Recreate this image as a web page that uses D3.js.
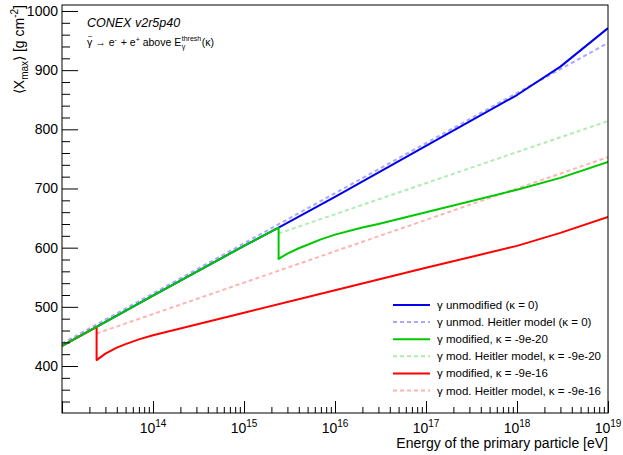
<!DOCTYPE html>
<html>
<head>
<meta charset="utf-8">
<script src="https://cdn.jsdelivr.net/npm/d3@7"></script>
<style>
  body { margin: 0; background: #fff; }
  text { font-family: "Liberation Sans", Arial, sans-serif; white-space: pre; }
</style>
</head>
<body>
<div id="chart"></div>
<script>
// Energies [eV] and <Xmax> values [g/cm2]
let blueE = [1e13, 2.4e13, 1e14, 1e15, 2.4e15, 1e16, 1e17, 1e18, 3e18, 1e19];
let blueX = [434, 466, 519, 603, 634, 686, 772, 858, 906, 971];
let blueHeitlerE = [1e13, 1e19];
let blueHeitlerX = [438, 946];

let greenE = [1e13, 2.4e13, 1e14, 1e15, 2.4e15, 2.4e15, 3e15, 4e15, 5e15, 7e15, 1e16, 2e16, 3e16, 1e17, 1e18, 3e18, 1e19];
let greenX = [434, 466, 519, 603, 634, 581, 590, 599, 605, 614, 622, 634, 640, 660, 698, 718, 745];
let greenHeitlerE = [2.4e15, 1e19];
let greenHeitlerX = [624, 814];

let redE = [1e13, 2.4e13, 2.4e13, 3e13, 4e13, 5e13, 7e13, 1e14, 1e15, 1e16, 1e17, 1e18, 3e18, 1e19];
let redX = [434, 466, 410, 421, 431, 437, 445, 452, 490, 528, 566, 603, 625, 652];
let redHeitlerE = [2.4e13, 1e19];
let redHeitlerX = [455, 753];

let yMajorTicks = [400, 500, 600, 700, 800, 900, 1000];
let xDecades = [13, 14, 15, 16, 17, 18, 19];
let xLabelDecades = [14, 15, 16, 17, 18, 19];

let legendLabels = [
    'γ unmodified (κ = 0)',
    'γ unmod. Heitler model (κ = 0)',
    'γ modified, κ = -9e-20',
    'γ mod. Heitler model, κ = -9e-20',
    'γ modified, κ = -9e-16',
    'γ mod. Heitler model, κ = -9e-16'
];

// Layout
let svgWidth = 623;
let svgHeight = 455;
let frame = { left: 62, right: 608, top: 5, bottom: 413 };

let svg = d3.select('#chart').append('svg')
    .attr('width', svgWidth)
    .attr('height', svgHeight);

let xScale = d3.scaleLog().domain([1e13, 1e19]).range([frame.left, frame.right]);
let yScale = d3.scaleLinear().domain([320.6, 1010.1]).range([frame.bottom, frame.top]);

// Series styles (drawing order)
let series = [
    { e: blueHeitlerE, v: blueHeitlerX, color: '#a8a8ff', dash: '4,3' },
    { e: blueE, v: blueX, color: '#0000ee', dash: null },
    { e: redHeitlerE, v: redHeitlerX, color: '#ffb4b4', dash: '4,3' },
    { e: redE, v: redX, color: '#ff0000', dash: null },
    { e: greenHeitlerE, v: greenHeitlerX, color: '#b0ecb0', dash: '4,3' },
    { e: greenE, v: greenX, color: '#00c800', dash: null }
];

svg.append('clipPath').attr('id', 'plotClip')
    .append('rect')
    .attr('x', frame.left).attr('y', frame.top)
    .attr('width', frame.right - frame.left)
    .attr('height', frame.bottom - frame.top);

let line = d3.line()
    .x(d => xScale(d[0]))
    .y(d => yScale(d[1]));

let plot = svg.append('g').attr('clip-path', 'url(#plotClip)');
series.forEach(s => {
    plot.append('path')
        .datum(s.e.map((e, i) => [e, s.v[i]]))
        .attr('d', line)
        .attr('fill', 'none')
        .attr('stroke', s.color)
        .attr('stroke-width', 2)
        .attr('stroke-linejoin', 'round')
        .attr('stroke-dasharray', s.dash);
});

// Frame
svg.append('rect')
    .attr('x', frame.left).attr('y', frame.top)
    .attr('width', frame.right - frame.left)
    .attr('height', frame.bottom - frame.top)
    .attr('fill', 'none')
    .attr('stroke', '#000')
    .attr('stroke-width', 1);

// Y axis: majors every 100, minors every 20, ticks pointing inward
let yMinorTicks = d3.range(340, 1010, 20).filter(v => v % 100 !== 0);
let yAxis = d3.axisLeft(yScale).tickValues(yMajorTicks).tickSize(-16).tickPadding(4).tickFormat(d3.format('d'));
let yAxisMinor = d3.axisLeft(yScale).tickValues(yMinorTicks).tickSize(-8).tickFormat('');

let yG = svg.append('g').attr('transform', `translate(${frame.left}, 0)`).call(yAxis);
svg.append('g').attr('transform', `translate(${frame.left}, 0)`).call(yAxisMinor);
yG.selectAll('text').style('font-size', '14px').attr('fill', '#000');

// X axis: decades with 2..9 minors
let xMinorTicks = [];
xDecades.slice(0, -1).forEach(d => {
    for (let k = 2; k <= 9; k++) xMinorTicks.push(k * Math.pow(10, d));
});
let xAxis = d3.axisBottom(xScale).tickValues(xDecades.map(d => Math.pow(10, d))).tickSize(-12).tickFormat('');
let xAxisMinor = d3.axisBottom(xScale).tickValues(xMinorTicks).tickSize(-6).tickFormat('');
svg.append('g').attr('transform', `translate(0, ${frame.bottom})`).call(xAxis);
svg.append('g').attr('transform', `translate(0, ${frame.bottom})`).call(xAxisMinor);
svg.selectAll('.domain').remove();

xLabelDecades.forEach(d => {
    let t = svg.append('text')
        .attr('x', xScale(Math.pow(10, d)))
        .attr('y', 433)
        .attr('text-anchor', 'middle')
        .style('font-size', '14px');
    t.append('tspan').text('10');
    t.append('tspan').attr('dy', -6).style('font-size', '10px').text(d);
});

// Axis titles
svg.append('text')
    .attr('x', frame.right)
    .attr('y', 448)
    .attr('text-anchor', 'end')
    .style('font-size', '14px')
    .text('Energy of the primary particle [eV]');

let yTitle = svg.append('text')
    .attr('transform', `translate(24, ${frame.top}) rotate(-90)`)
    .attr('text-anchor', 'end')
    .style('font-size', '14px');
yTitle.append('tspan').text('⟨X');
yTitle.append('tspan').attr('dy', 4).style('font-size', '10px').text('max');
yTitle.append('tspan').attr('dy', -4).text('⟩ [g cm');
yTitle.append('tspan').attr('dy', -6).style('font-size', '10px').text('-2');
yTitle.append('tspan').attr('dy', 6).text(']');

// Annotations
svg.append('text')
    .attr('x', 87).attr('y', 27)
    .style('font-size', '12.5px')
    .style('font-style', 'italic')
    .text('CONEX v2r5p40');

// Second annotation line, built piece by piece so the scripts can stack
let noteX = 87;
let noteY = 46;
function notePiece(str, size, dx, dy) {
    let t = svg.append('text')
        .attr('x', noteX + dx).attr('y', noteY + dy)
        .style('font-size', size + 'px')
        .text(str);
    return t.node().getComputedTextLength();
}
let gw = notePiece('γ', 10.5, 0, 0);
notePiece('~', 8, 0.8, -7.5);
noteX += gw + 3;
noteX += notePiece('→ e', 10.5, 0, 0);
noteX += notePiece('-', 7, 0, -4) + 1;
noteX += notePiece(' + e', 10.5, 0, 0);
noteX += notePiece('+', 7, 0, -4);
noteX += notePiece(' above E', 10.5, 0, 0);
let supW = notePiece('thresh', 7, 0.5, -5);
notePiece('γ', 7, 0.5, 3);
noteX += supW + 1;
notePiece('(κ)', 10.5, 0, 0);

// Legend
let legendStyles = [series[1], series[0], series[5], series[4], series[3], series[2]];
let legend = svg.append('g');
legendLabels.forEach((label, i) => {
    let yPos = 305 + i * 17.1;
    legend.append('line')
        .attr('x1', 393).attr('x2', 430)
        .attr('y1', yPos).attr('y2', yPos)
        .attr('stroke', legendStyles[i].color)
        .attr('stroke-width', 2)
        .attr('stroke-dasharray', legendStyles[i].dash);
    legend.append('text')
        .attr('x', 437).attr('y', yPos + 4)
        .style('font-size', '11.5px')
        .text(label);
});
</script>
</body>
</html>
